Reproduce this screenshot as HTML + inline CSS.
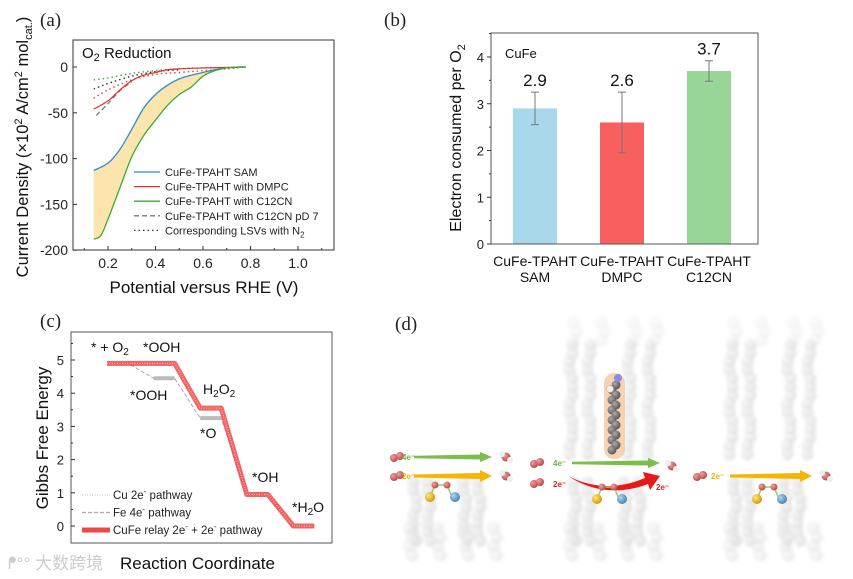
<!DOCTYPE html>
<html><head><meta charset="utf-8">
<style>
html,body{margin:0;padding:0;background:#fff;}
svg{display:block;font-family:"Liberation Sans","Noto Sans CJK SC",sans-serif;}
.ser{font-family:"Liberation Serif",serif;}
</style></head>
<body>
<svg id="fig" width="853" height="579" viewBox="0 0 853 579" xmlns="http://www.w3.org/2000/svg">
<defs>
<radialGradient id="gs" cx="35%" cy="35%" r="70%"><stop offset="0" stop-color="#ececec"/><stop offset="1" stop-color="#b8b8b8"/></radialGradient>
<radialGradient id="dk" cx="35%" cy="35%" r="70%"><stop offset="0" stop-color="#aaa"/><stop offset="1" stop-color="#555"/></radialGradient>
<radialGradient id="rd" cx="35%" cy="35%" r="70%"><stop offset="0" stop-color="#f0a0a0"/><stop offset="1" stop-color="#b84444"/></radialGradient>
<radialGradient id="yl" cx="35%" cy="35%" r="70%"><stop offset="0" stop-color="#ffe680"/><stop offset="1" stop-color="#d09a00"/></radialGradient>
<radialGradient id="bl" cx="35%" cy="35%" r="70%"><stop offset="0" stop-color="#b0d4f0"/><stop offset="1" stop-color="#3f7fb8"/></radialGradient>
<filter id="blur"><feGaussianBlur stdDeviation="1.6"/></filter>
</defs>
<g id="panelA"></g>
<g id="panelB"></g>
<g id="panelC"></g>
<g id="panelD"></g>
</svg>
<script>
// ---------- Panel (a) data ----------
const aV_sam = [0.14,0.2,0.25,0.3,0.35,0.4,0.45,0.5,0.55,0.6,0.65,0.7,0.75,0.78];
const aJ_sam = [-113,-105,-90,-68,-45,-30,-20,-13,-9,-6,-3,-1,0,0];
const aV_c12 = [0.14,0.17,0.2,0.25,0.3,0.35,0.4,0.45,0.5,0.55,0.6,0.65,0.7,0.78];
const aJ_c12 = [-188,-184,-166,-132,-98,-75,-58,-42,-30,-22,-10,-4,-1,0];
const aV_dmpc = [0.14,0.2,0.25,0.3,0.35,0.4,0.45,0.5,0.6,0.7,0.78];
const aJ_dmpc = [-46,-37,-25,-15,-9,-6,-3,-2,-1,-0.5,0];
const aV_pd7 = [0.15,0.2,0.25,0.3];
const aJ_pd7 = [-53,-40,-26,-16];
const aV_n2g = [0.14,0.2,0.3,0.4,0.5,0.6,0.78];
const aJ_n2g = [-14,-12,-7,-4,-2,-1,0];
const aV_n2k = [0.14,0.2,0.3,0.4,0.5];
const aJ_n2k = [-24,-18,-10,-5,-3];
const aV_n2r = [0.14,0.2,0.3,0.4,0.5,0.6,0.7,0.78];
const aJ_n2r = [-34,-25,-14,-8,-6,-4,-2,0];
const aXTicks = [0.2,0.4,0.6,0.8,1.0];
const aYTicks = [0,-50,-100,-150,-200];

// ---------- Panel (b) data ----------
const bCats1 = ["CuFe-TPAHT","CuFe-TPAHT","CuFe-TPAHT"];
const bCats2 = ["SAM","DMPC","C12CN"];
const bVals = [2.9,2.6,3.7];
const bErrLo = [2.55,1.95,3.48];
const bErrHi = [3.25,3.25,3.92];
const bColors = ["#a8d8ea","#f86060","#98d698"];
const bYTicks = [0,1,2,3,4];

// ---------- Panel (c) data ----------
const cRelay = [4.9,4.9,3.55,0.95,0];
const cFe = [4.9,4.45,3.25,0.95,0];
const cCu = [4.9,4.9,3.55,0.95,0];
const cYTicks = [0,1,2,3,4,5];

const NS="http://www.w3.org/2000/svg";
function mk(parent,tag,attrs,text){const e=document.createElementNS(NS,tag);for(const k in attrs)e.setAttribute(k,attrs[k]);if(text!==undefined)e.textContent=text;parent.appendChild(e);return e;}
function smooth(pts,start){let d=start?'M'+pts[0][0]+','+pts[0][1]:'L'+pts[0][0]+','+pts[0][1];
 for(let i=0;i<pts.length-1;i++){const p0=pts[i-1]||pts[i],p1=pts[i],p2=pts[i+1],p3=pts[i+2]||p2;
  const c1=[p1[0]+(p2[0]-p0[0])/6,p1[1]+(p2[1]-p0[1])/6],c2=[p2[0]-(p3[0]-p1[0])/6,p2[1]-(p3[1]-p1[1])/6];
  d+=` C${c1[0]},${c1[1]} ${c2[0]},${c2[1]} ${p2[0]},${p2[1]}`;}
 return d;}

// ===== Panel A =====
(function(){
const g=document.getElementById('panelA');
const L=73,R=334,T=40,B=250;
const xA=v=>108+(v-0.2)*237.5;
const yA=j=>67-j*0.916;
const t=mk(g,'text',{x:40,y:26,'font-size':19,class:'ser',fill:'#222'},'(a)');


const ps=aV_sam.map((v,i)=>[xA(v),yA(aJ_sam[i])]);
const pc=aV_c12.map((v,i)=>[xA(v),yA(aJ_c12[i])]).reverse();
const f=mk(g,'path',{d:smooth(ps,true)+' '+smooth(pc,false)+'Z',fill:'#fbe5ad',stroke:'none'});


function line(vs,js,color,dash,w,name){
  const p=mk(g,'path',{d:smooth(vs.map((v,i)=>[xA(v),yA(js[i])]),true),fill:'none',stroke:color,'stroke-width':w,'stroke-dasharray':dash||'none','stroke-linejoin':'round'});
  
  
}
line(aV_n2g,aJ_n2g,'#3aab3a','1.5,3',1.4,'n2-line-c12cn');
line(aV_n2k,aJ_n2k,'#333','1.5,3',1.4,'n2-line-sam');
line(aV_n2r,aJ_n2r,'#e04040','1.5,3',1.4,'n2-line-dmpc');
line(aV_pd7,aJ_pd7,'#777','5,3',1.2,'line-c12cn-pd7');
line(aV_dmpc,aJ_dmpc,'#e03030','',1.2,'line-dmpc');
line(aV_sam,aJ_sam,'#2a8ed0','',1.3,'line-sam');
line(aV_c12,aJ_c12,'#3aab2a','',1.3,'line-c12cn');
const ax=mk(g,'rect',{x:L,y:T,width:R-L,height:B-T,fill:'none',stroke:'#333','stroke-width':1});


aXTicks.forEach(v=>{mk(g,'line',{x1:xA(v),x2:xA(v),y1:B,y2:B-4,stroke:'#333'});
 const tl=mk(g,'text',{x:xA(v),y:B+18,'font-size':14,'text-anchor':'middle',fill:'#222'},v.toFixed(1));
 
 });
[0.1,0.3,0.5,0.7,0.9,1.1].forEach(v=>mk(g,'line',{x1:xA(v),x2:xA(v),y1:B,y2:B-2,stroke:'#333'}));
aYTicks.forEach(v=>{mk(g,'line',{x1:L,x2:L+4,y1:yA(v),y2:yA(v),stroke:'#333'});
 const tl=mk(g,'text',{x:L-5,y:yA(v)+5,'font-size':14,'text-anchor':'end',fill:'#222'},v);
 
 });
const tt=mk(g,'text',{x:82,y:58,'font-size':15,fill:'#111'});
tt.innerHTML='O<tspan font-size="11" dy="3">2</tspan><tspan dy="-3"> Reduction</tspan>';


const yt=mk(g,'text',{transform:'translate(28,147) rotate(-90)','font-size':16.5,'text-anchor':'middle',fill:'#111'});
yt.innerHTML='Current Density (×10<tspan font-size="11" dy="-6">2</tspan><tspan dy="6"> A/cm</tspan><tspan font-size="11" dy="-6">2</tspan><tspan dy="6"> mol</tspan><tspan font-size="11" dy="4">cat.</tspan><tspan dy="-4">)</tspan>';


const xt=mk(g,'text',{x:204,y:293,'font-size':17,'text-anchor':'middle',fill:'#111'},'Potential versus RHE (V)');


const leg=[["CuFe-TPAHT SAM","#2a8ed0",''],["CuFe-TPAHT with DMPC","#e03030",''],["CuFe-TPAHT with C12CN","#3aab2a",''],["CuFe-TPAHT with C12CN pD 7","#777",'5,3'],["Corresponding LSVs with N","#333",'1.5,3']];
leg.forEach((e,i)=>{const y=176+i*14.6;
 const lg=mk(g,'g',{});
 
 
 mk(lg,'line',{x1:134,x2:160,y1:y-4,y2:y-4,stroke:e[1],'stroke-width':1.3,'stroke-dasharray':e[2]||'none'});
 const tx=mk(lg,'text',{x:165,y:y,'font-size':11,fill:'#222'},e[0]);
 if(i==4){mk(tx,'tspan',{'font-size':8,dy:3},'2');}
});
})();

// ===== Panel B =====
(function(){
const g=document.getElementById('panelB');
const L=491,R=758,T=33,B=244;
const yB=v=>B-v*46.75;
const xB=i=>535+i*87;
const t=mk(g,'text',{x:384,y:26,'font-size':19,class:'ser',fill:'#222'},'(b)');


bVals.forEach((v,i)=>{
 const r=mk(g,'rect',{x:xB(i)-22,y:yB(v),width:44,height:B-yB(v),fill:bColors[i]});
 
 
 const eb=mk(g,'path',{d:`M${xB(i)},${yB(bErrLo[i])}V${yB(bErrHi[i])}M${xB(i)-4},${yB(bErrLo[i])}h8M${xB(i)-4},${yB(bErrHi[i])}h8`,stroke:'#777','stroke-width':1,fill:'none'});
 
 
 const vl=mk(g,'text',{x:xB(i),y:yB(bErrHi[i])-6,'font-size':17,'text-anchor':'middle',fill:'#111'},v.toFixed(1));
 
 
 const c1=mk(g,'text',{x:xB(i),y:266,'font-size':14,'text-anchor':'middle',fill:'#111'},bCats1[i]);
 
 
 const c2=mk(g,'text',{x:xB(i),y:282,'font-size':14,'text-anchor':'middle',fill:'#111'},bCats2[i]);
 
 
});
const ax=mk(g,'rect',{x:L,y:T,width:R-L,height:B-T,fill:'none',stroke:'#555','stroke-width':1});


bYTicks.forEach(v=>{mk(g,'line',{x1:L,x2:L-4,y1:yB(v),y2:yB(v),stroke:'#333'});
 mk(g,'line',{x1:L,x2:L-2,y1:yB(v+0.5),y2:yB(v+0.5),stroke:'#333'});
 const tl=mk(g,'text',{x:L-7,y:yB(v)+5,'font-size':13,'text-anchor':'end',fill:'#222'},v);
 
 });
const cf=mk(g,'text',{x:505,y:58,'font-size':13,fill:'#111'},'CuFe');


const yt=mk(g,'text',{transform:'translate(461,138) rotate(-90)','font-size':16,'text-anchor':'middle',fill:'#111'});
yt.innerHTML='Electron consumed per O<tspan font-size="11" dy="4">2</tspan>';


})();

// ===== Panel C =====
(function(){
const g=document.getElementById('panelC');
const L=71,R=332,T=332,B=543;
const yC=v=>526-v*33.2;
const xC=i=>107+i*46.6;
const W=21;
const t=mk(g,'text',{x:40,y:327,'font-size':19,class:'ser',fill:'#222'},'(c)');


function path(vals){let d='';vals.forEach((v,i)=>{d+=(i?'L':'M')+xC(i)+','+yC(v)+' L'+(xC(i)+W)+','+yC(v)+' ';});return d;}
const fe=mk(g,'path',{d:path(cFe),fill:'none',stroke:'#aaa','stroke-width':1,'stroke-dasharray':'4,2'});


cFe.forEach((v,i)=>{if(v!==cRelay[i])mk(g,'line',{x1:xC(i),x2:xC(i)+W,y1:yC(v),y2:yC(v),stroke:'#bbb','stroke-width':4});});
const rl=mk(g,'path',{d:path(cRelay),fill:'none',stroke:'#f04848','stroke-width':5,'stroke-linejoin':'round','stroke-opacity':0.85});


const cu=mk(g,'path',{d:path(cCu),fill:'none',stroke:'#f8c8c8','stroke-width':1,'stroke-dasharray':'1,1.5'});


const ax=mk(g,'rect',{x:L,y:T,width:R-L,height:B-T,fill:'none',stroke:'#555','stroke-width':1});


cYTicks.forEach(v=>{mk(g,'line',{x1:L,x2:L+4,y1:yC(v),y2:yC(v),stroke:'#333'});
 mk(g,'line',{x1:L,x2:L+2,y1:yC(v+0.5),y2:yC(v+0.5),stroke:'#333'});
 const tl=mk(g,'text',{x:L-7,y:yC(v)+5,'font-size':13,'text-anchor':'end',fill:'#222'},v);
 
 });
const labs=[[91,352,'* + O','2'],[143,352,'*OOH',''],[130,400,'*OOH',''],[203,394,'H','2','O','2'],[200,438,'*O',''],[252,482,'*OH',''],[292,512,'*H','2','O','']];
labs.forEach(l=>{const tx=mk(g,'text',{x:l[0],y:l[1],'font-size':14,fill:'#111'},l[2]);
 if(l[3])mk(tx,'tspan',{'font-size':10,dy:3},l[3]);
 if(l[4])mk(tx,'tspan',{dy:-3},l[4]);
 if(l[5])mk(tx,'tspan',{'font-size':10,dy:3},l[5]);
 
 });
const legs=[['Cu 2e','#ccc','1,1.5',1.2,' pathway'],['Fe 4e','#aaa','4,2',1.2,' pathway'],['CuFe relay 2e','#f04848','',5,' + 2e']];
legs.forEach((e,i)=>{const y=499+i*17.5;
 const lg=mk(g,'g',{});
 
 
 mk(lg,'line',{x1:82,x2:110,y1:y-4,y2:y-4,stroke:e[1],'stroke-width':e[3],'stroke-dasharray':e[2]||'none'});
 const tx=mk(lg,'text',{x:113,y:y,'font-size':11.5,fill:'#222'},e[0]);
 mk(tx,'tspan',{'font-size':8,dy:-5},'-');
 mk(tx,'tspan',{dy:5},e[4]);
 if(i==2){mk(tx,'tspan',{'font-size':8,dy:-5},'-');mk(tx,'tspan',{dy:5},' pathway');}
});
const yt=mk(g,'text',{transform:'translate(48,438) rotate(-90)','font-size':17,'text-anchor':'middle',fill:'#111'},'Gibbs Free Energy');


const xt=mk(g,'text',{x:120,y:569,'font-size':17,fill:'#111'},'Reaction Coordinate');


const wm=mk(g,'text',{x:8,y:569,'font-size':17,fill:'#ccc'},'ᖰ°° 大数跨境');


})();

// ===== Panel D =====
(function(){
const g=document.getElementById('panelD');
const t=mk(g,'text',{x:395,y:330,'font-size':19,class:'ser',fill:'#222'},'(d)');


const mem=mk(g,'g',{filter:'url(#blur)',opacity:0.55});


function col(x,y1,y2,r,op){for(let y=y1;y<=y2;y+=r*1.4)mk(mem,'circle',{cx:x+((Math.round(y)%2)?1.5:-1.5),cy:y,r:r,fill:'url(#gs)',opacity:op});}
[[405],[565],[725]].forEach(([x0])=>{
 [6,20,56,70].forEach((dx,k)=>col(x0+dx+4,482,548,6,0.8));
 [0,28,56,84].forEach(dx=>col(x0+dx+6,528,560,6.5,0.5));
});
[[565],[725]].forEach(([x0])=>{
 [6,24,64,84].forEach(dx=>col(x0+dx,345,460,6,0.75));
 [10,38,70,92].forEach(dx=>col(x0+dx,322,345,6.5,0.3));
});
const ch=mk(g,'g',{});


mk(ch,'rect',{x:604,y:373,width:21,height:86,rx:10,fill:'#f6c8a0',opacity:0.8});
for(let y=385;y<=452;y+=5)mk(ch,'circle',{cx:614+((y/5)%2?2:-2),cy:y,r:4.5,fill:'url(#dk)'});
mk(ch,'circle',{cx:618,cy:378,r:4,fill:'#8a8ae0'});
mk(ch,'circle',{cx:610,cy:389,r:3.5,fill:'#eee',stroke:'#aaa','stroke-width':0.5});
function o2(x,y){const e=mk(g,'g',{});mk(e,'circle',{cx:x-3,cy:y+1,r:4,fill:'url(#rd)'});mk(e,'circle',{cx:x+3,cy:y-1,r:4,fill:'url(#rd)'});}
function h2o(x,y){const e=mk(g,'g',{});mk(e,'circle',{cx:x,cy:y,r:4.5,fill:'url(#rd)'});mk(e,'circle',{cx:x-4,cy:y-3,r:3,fill:'#eee'});mk(e,'circle',{cx:x+4,cy:y+3,r:3,fill:'#eee'});}
function arrow(x1,x2,y,color,w,name){const e=mk(g,'path',{d:`M${x1},${y-w/4} L${x2-12},${y-w/2} L${x2-12},${y-w} L${x2},${y} L${x2-12},${y+w} L${x2-12},${y+w/2} L${x1},${y+w/4}Z`,fill:color});}
function site(x,y){const e=mk(g,'g',{});
 mk(e,'path',{d:`M${x},${y} L${x+5},${y-12} L${x+17},${y-12} L${x+22},${y}`,stroke:'#9c6',fill:'none','stroke-width':1.5});
 mk(e,'circle',{cx:x+5,cy:y-12,r:3.5,fill:'url(#rd)'});mk(e,'circle',{cx:x+17,cy:y-12,r:3.5,fill:'url(#rd)'});
 mk(e,'circle',{cx:x,cy:y,r:5,fill:'url(#yl)'});mk(e,'circle',{cx:x+25,cy:y,r:5,fill:'url(#bl)'});}
function lab(x,y,txt,color){const e=mk(g,'text',{x:x,y:y,'font-size':8,'font-weight':'bold',fill:color},txt);}
o2(397,457);o2(397,476);
lab(402,460,'4e⁻','#6db33f');lab(402,479,'2e⁻','#f0b400');
arrow(414,492,457,'#7bbf4a',5,'4e-arrow');arrow(414,492,476,'#f7b500',6,'2e-arrow');
h2o(506,457);h2o(506,476);site(430,497);
o2(537,463);o2(537,483);
lab(553,466,'4e⁻','#6db33f');lab(553,487,'2e⁻','#e02020');
arrow(572,660,463,'#7bbf4a',5,'4e-arrow');
const ca=mk(g,'path',{d:'M568,476 Q605,495 645,478 L643,472 L660,476 L650,490 L648,484 Q605,500 568,476Z',fill:'#e81818'});


lab(656,490,'2e⁻','#e02020');
h2o(672,466);site(597,499);
o2(700,476);lab(711,479,'2e⁻','#f0b400');arrow(730,812,476,'#f7b500',6,'2e-arrow');h2o(826,476);site(757,499);
})();
</script>
</body></html>
